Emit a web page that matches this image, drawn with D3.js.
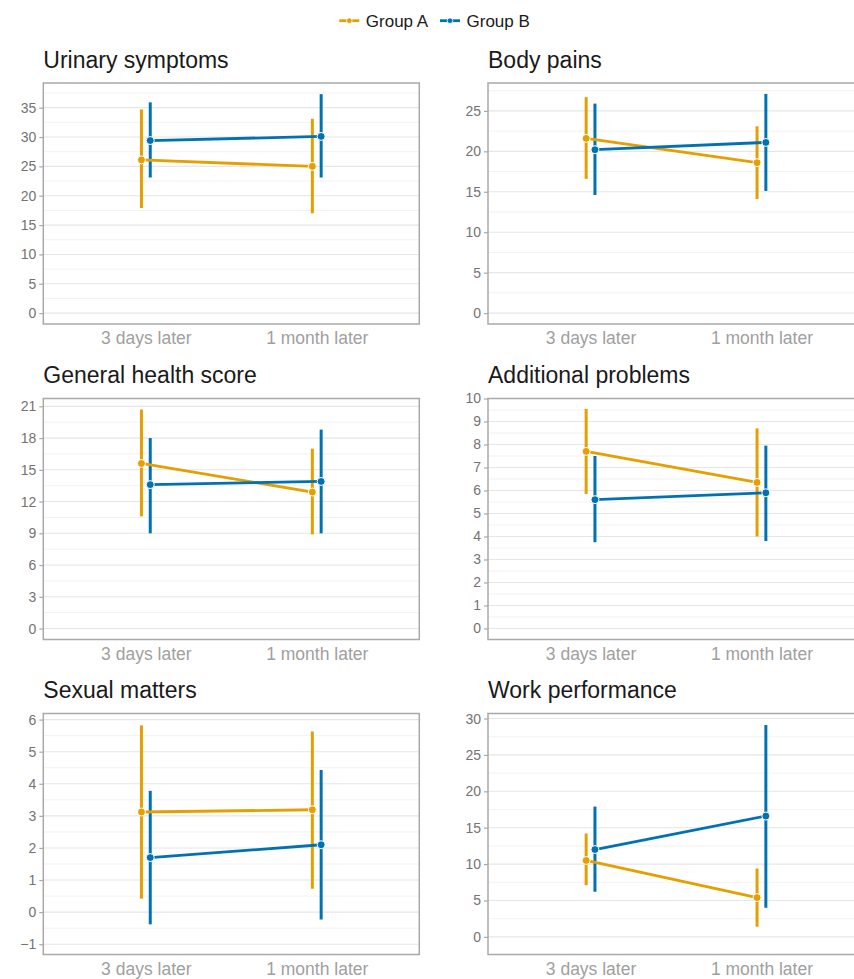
<!DOCTYPE html>
<html>
<head>
<meta charset="utf-8">
<script src="https://cdn.jsdelivr.net/npm/d3@7"></script>
<style>
  html, body { margin: 0; padding: 0; background: #ffffff; }
  svg { display: block; font-family: "Liberation Sans", Arial, Helvetica, sans-serif; }
</style>
</head>
<body>
<svg id="chart" width="854" height="979"></svg>
<script>
// ---- data -------------------------------------------------------------
const categories = ["3 days later", "1 month later"];
const groups = ["Group A", "Group B"];
const titles = ["Urinary symptoms", "Body pains", "General health score",
                "Additional problems", "Sexual matters", "Work performance"];

// mean and interval bounds per panel, one pair per time point
const groupAMean = [[26.1, 25.0], [21.6, 18.6], [15.6, 12.9], [7.7, 6.35], [3.12, 3.19], [10.5, 5.4]];
const groupALow  = [[17.9, 17.0], [16.6, 14.1], [10.6, 8.9],  [5.85, 4.0], [0.42, 0.73], [7.1, 1.4]];
const groupAHigh = [[34.7, 33.1], [26.7, 23.1], [20.7, 17.0], [9.55, 8.7], [5.82, 5.63], [14.2, 9.4]];
const groupBMean = [[29.4, 30.1], [20.2, 21.1], [13.6, 13.9], [5.6, 5.9],  [1.7, 2.1],   [12.0, 16.6]];
const groupBLow  = [[23.1, 23.1], [14.6, 15.1], [9.0, 9.0],   [3.75, 3.8], [-0.38, -0.23], [6.2, 4.0]];
const groupBHigh = [[35.9, 37.3], [25.9, 27.1], [18.0, 18.8], [7.5, 7.95], [3.78, 4.43], [17.9, 29.1]];

// y-axis limits and tick breaks per panel
const yLimits = [[-1.85, 39.2], [-1.35, 28.45], [-1.035, 21.74], [-0.48, 10.0], [-1.32, 6.19], [-2.42, 30.69]];
const yBreaks = [
  [0, 5, 10, 15, 20, 25, 30, 35],
  [0, 5, 10, 15, 20, 25],
  [0, 3, 6, 9, 12, 15, 18, 21],
  [0, 1, 2, 3, 4, 5, 6, 7, 8, 9, 10],
  [-1, 0, 1, 2, 3, 4, 5, 6],
  [0, 5, 10, 15, 20, 25, 30]
];

// ---- styling ----------------------------------------------------------
const colors = { "Group A": "#E69F00", "Group B": "#0072B2" };
const colLeft = [43.3, 488];
const rowTop = [83, 398.5, 713.5];
const panelW = 376, panelH = 241;

const svg = d3.select("#chart");
const color = d3.scaleOrdinal().domain(groups).range([colors["Group A"], colors["Group B"]]);

const series = [
  { group: "Group A", mean: groupAMean, low: groupALow, high: groupAHigh },
  { group: "Group B", mean: groupBMean, low: groupBLow, high: groupBHigh }
];

titles.forEach((title, i) => {
  const left = colLeft[i % 2];
  const top = rowTop[Math.floor(i / 2)];
  const g = svg.append("g").attr("transform", `translate(${left},${top})`);

  const x = d3.scalePoint().domain(categories).range([0, panelW]).padding(0.6);
  const dodge = d3.scalePoint().domain(groups).range([-4.4, 4.4]);
  const y = d3.scaleLinear().domain(yLimits[i]).range([panelH, 0]);

  // grid: major at breaks, minor halfway between them
  const br = yBreaks[i];
  const step = br[1] - br[0];
  const minor = [];
  for (let v = br[0] - step / 2; v <= yLimits[i][1]; v += step) {
    if (v >= yLimits[i][0]) minor.push(v);
  }
  g.append("g").selectAll("line.minor").data(minor).join("line")
    .attr("x1", 0).attr("x2", panelW)
    .attr("y1", d => y(d)).attr("y2", d => y(d))
    .attr("stroke", "#efefef").attr("stroke-width", 0.8);
  g.append("g").selectAll("line.major").data(br).join("line")
    .attr("x1", 0).attr("x2", panelW)
    .attr("y1", d => y(d)).attr("y2", d => y(d))
    .attr("stroke", "#e6e6e6").attr("stroke-width", 1.1);

  // error bars
  series.forEach(s => {
    g.append("g").selectAll("line").data(categories).join("line")
      .attr("x1", (c) => x(c) + dodge(s.group))
      .attr("x2", (c) => x(c) + dodge(s.group))
      .attr("y1", (c, j) => y(s.low[i][j]))
      .attr("y2", (c, j) => y(s.high[i][j]))
      .attr("stroke", color(s.group)).attr("stroke-width", 3);
  });

  // connecting lines
  series.forEach(s => {
    const line = d3.line()
      .x((d, j) => x(categories[j]) + dodge(s.group))
      .y(d => y(d));
    g.append("path").datum(s.mean[i])
      .attr("d", line)
      .attr("fill", "none")
      .attr("stroke", color(s.group)).attr("stroke-width", 2.8);
  });

  // points
  series.forEach(s => {
    g.append("g").selectAll("circle").data(categories).join("circle")
      .attr("cx", c => x(c) + dodge(s.group))
      .attr("cy", (c, j) => y(s.mean[i][j]))
      .attr("r", 4)
      .attr("fill", color(s.group))
      .attr("stroke", "#ffffff").attr("stroke-width", 1);
  });

  // panel border
  g.append("rect")
    .attr("x", 0).attr("y", 0).attr("width", panelW).attr("height", panelH)
    .attr("fill", "none").attr("stroke", "#a9a9a9").attr("stroke-width", 1.5);

  // y axis
  const yAxis = d3.axisLeft(y).tickValues(br).tickSize(4).tickPadding(3).tickFormat(d3.format("d"));
  const ya = g.append("g").call(yAxis);
  ya.select(".domain").remove();
  ya.selectAll(".tick line").attr("stroke", "#a9a9a9").attr("stroke-width", 1.2);
  ya.selectAll(".tick text").attr("fill", "#737373").style("font-size", "14px")
    .style("font-family", "'Liberation Sans', Arial, sans-serif");

  // x axis labels
  const xAxis = d3.axisBottom(x).tickSize(0).tickPadding(8);
  const xa = g.append("g").attr("transform", `translate(0,${panelH})`).call(xAxis);
  xa.select(".domain").remove();
  xa.selectAll(".tick text").attr("fill", "#a0a0a0").style("font-size", "17.5px")
    .style("font-family", "'Liberation Sans', Arial, sans-serif");

  // panel title
  g.append("text")
    .attr("x", 0).attr("y", -15.5)
    .attr("fill", "#1a1a1a")
    .style("font-size", "23px")
    .text(title);
});

// ---- legend -----------------------------------------------------------
const legendX = [339.3, 440];
const legend = svg.append("g");
groups.forEach((grp, k) => {
  const lg = legend.append("g").attr("transform", `translate(${legendX[k]},20.7)`);
  lg.append("line").attr("x1", 0).attr("x2", 20).attr("y1", 0).attr("y2", 0)
    .attr("stroke", color(grp)).attr("stroke-width", 2.8);
  lg.append("circle").attr("cx", 10).attr("cy", 0).attr("r", 2.8)
    .attr("fill", color(grp)).attr("stroke", "#ffffff").attr("stroke-width", 0.8);
  lg.append("text").attr("x", 26.5).attr("y", 0).attr("dy", "0.36em")
    .attr("fill", "#1a1a1a").style("font-size", "17px").text(grp);
});
</script>
</body>
</html>
